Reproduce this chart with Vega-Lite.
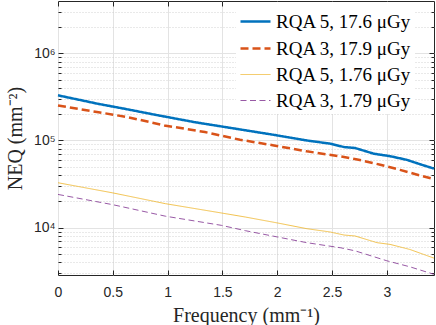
{
  "$schema": "https://vega.github.io/schema/vega-lite/v6.json",
  "width": 376,
  "height": 274,
  "autosize": "none",
  "padding": {"left": 58, "top": 1, "right": 2, "bottom": 50},
  "background": "white",
  "config": {
    "view": {"stroke": "#262626", "strokeWidth": 1},
    "axis": {
      "domain": false,
      "labelFont": "Liberation Sans",
      "labelFontSize": 14,
      "labelColor": "#262626",
      "tickColor": "#262626",
      "titleFont": "Liberation Serif",
      "titleFontSize": 20,
      "titleFontWeight": "normal",
      "titleColor": "#262626"
    }
  },
  "data": {
    "values": [
      {"series": "RQA 5, 17.6 μGy", "f": 0, "neq": 330000},
      {"series": "RQA 5, 17.6 μGy", "f": 0.37, "neq": 263000},
      {"series": "RQA 5, 17.6 μGy", "f": 0.61, "neq": 231000},
      {"series": "RQA 5, 17.6 μGy", "f": 0.89, "neq": 197000},
      {"series": "RQA 5, 17.6 μGy", "f": 1.25, "neq": 162000},
      {"series": "RQA 5, 17.6 μGy", "f": 1.66, "neq": 134000},
      {"series": "RQA 5, 17.6 μGy", "f": 1.97, "neq": 116000},
      {"series": "RQA 5, 17.6 μGy", "f": 2.27, "neq": 100000},
      {"series": "RQA 5, 17.6 μGy", "f": 2.48, "neq": 92000},
      {"series": "RQA 5, 17.6 μGy", "f": 2.61, "neq": 84000},
      {"series": "RQA 5, 17.6 μGy", "f": 2.71, "neq": 82000},
      {"series": "RQA 5, 17.6 μGy", "f": 2.88, "neq": 70500},
      {"series": "RQA 5, 17.6 μGy", "f": 3.03, "neq": 66000},
      {"series": "RQA 5, 17.6 μGy", "f": 3.18, "neq": 60000},
      {"series": "RQA 5, 17.6 μGy", "f": 3.31, "neq": 53000},
      {"series": "RQA 5, 17.6 μGy", "f": 3.43, "neq": 47500},
      {"series": "RQA 3, 17.9 μGy", "f": 0, "neq": 252000},
      {"series": "RQA 3, 17.9 μGy", "f": 0.37, "neq": 211000},
      {"series": "RQA 3, 17.9 μGy", "f": 0.64, "neq": 185000},
      {"series": "RQA 3, 17.9 μGy", "f": 0.97, "neq": 149000},
      {"series": "RQA 3, 17.9 μGy", "f": 1.34, "neq": 125000},
      {"series": "RQA 3, 17.9 μGy", "f": 1.66, "neq": 102000},
      {"series": "RQA 3, 17.9 μGy", "f": 1.97, "neq": 87700},
      {"series": "RQA 3, 17.9 μGy", "f": 2.27, "neq": 75000},
      {"series": "RQA 3, 17.9 μGy", "f": 2.58, "neq": 65500},
      {"series": "RQA 3, 17.9 μGy", "f": 2.73, "neq": 60600},
      {"series": "RQA 3, 17.9 μGy", "f": 2.94, "neq": 52600},
      {"series": "RQA 3, 17.9 μGy", "f": 3.12, "neq": 46000},
      {"series": "RQA 3, 17.9 μGy", "f": 3.27, "neq": 40700},
      {"series": "RQA 3, 17.9 μGy", "f": 3.43, "neq": 36000},
      {"series": "RQA 5, 1.76 μGy", "f": 0, "neq": 32700},
      {"series": "RQA 5, 1.76 μGy", "f": 0.5, "neq": 25000},
      {"series": "RQA 5, 1.76 μGy", "f": 0.98, "neq": 18800},
      {"series": "RQA 5, 1.76 μGy", "f": 1.49, "neq": 14700},
      {"series": "RQA 5, 1.76 μGy", "f": 1.71, "neq": 13200},
      {"series": "RQA 5, 1.76 μGy", "f": 2.0, "neq": 11300},
      {"series": "RQA 5, 1.76 μGy", "f": 2.27, "neq": 9700},
      {"series": "RQA 5, 1.76 μGy", "f": 2.48, "neq": 8900},
      {"series": "RQA 5, 1.76 μGy", "f": 2.61, "neq": 8200},
      {"series": "RQA 5, 1.76 μGy", "f": 2.71, "neq": 8000},
      {"series": "RQA 5, 1.76 μGy", "f": 2.91, "neq": 6700},
      {"series": "RQA 5, 1.76 μGy", "f": 3.03, "neq": 6400},
      {"series": "RQA 5, 1.76 μGy", "f": 3.21, "neq": 5600},
      {"series": "RQA 5, 1.76 μGy", "f": 3.43, "neq": 4450},
      {"series": "RQA 3, 1.79 μGy", "f": 0, "neq": 24000},
      {"series": "RQA 3, 1.79 μGy", "f": 0.5, "neq": 18300},
      {"series": "RQA 3, 1.79 μGy", "f": 0.98, "neq": 13500},
      {"series": "RQA 3, 1.79 μGy", "f": 1.49, "neq": 10600},
      {"series": "RQA 3, 1.79 μGy", "f": 1.71, "neq": 9200},
      {"series": "RQA 3, 1.79 μGy", "f": 2.0, "neq": 7800},
      {"series": "RQA 3, 1.79 μGy", "f": 2.27, "neq": 6700},
      {"series": "RQA 3, 1.79 μGy", "f": 2.58, "neq": 5850},
      {"series": "RQA 3, 1.79 μGy", "f": 2.71, "neq": 5400},
      {"series": "RQA 3, 1.79 μGy", "f": 3.0, "neq": 4150},
      {"series": "RQA 3, 1.79 μGy", "f": 3.21, "neq": 3540},
      {"series": "RQA 3, 1.79 μGy", "f": 3.43, "neq": 2900}
    ]
  },
  "layer": [
    {
      "mark": {"type": "line", "opacity": 0},
      "encoding": {
        "detail": {"field": "series"},
        "x": {"field": "f", "type": "quantitative", "scale": {"domain": [0, 3.43], "nice": false, "zero": false},
          "axis": {"orient": "bottom", "values": [0, 0.5, 1, 1.5, 2, 2.5, 3], "labels": false, "grid": false, "ticks": true, "tickSize": -5, "title": null}},
        "y": {"field": "neq", "type": "quantitative", "scale": {"type": "log", "domain": [2850, 4000000], "nice": false},
          "axis": {"orient": "left", "values": [3000, 4000, 5000, 6000, 7000, 8000, 9000, 20000, 30000, 40000, 50000, 60000, 70000, 80000, 90000, 200000, 300000, 400000, 500000, 600000, 700000, 800000, 900000, 2000000, 3000000],
            "labels": false, "grid": true, "gridDash": [1, 2], "gridColor": "#c8c8c8", "gridWidth": 0.8, "ticks": true, "tickSize": -3, "title": null}}
      }
    },
    {
      "mark": {"type": "line", "opacity": 0},
      "encoding": {
        "detail": {"field": "series"},
        "x": {"field": "f", "type": "quantitative", "scale": {"domain": [0, 3.43], "nice": false, "zero": false},
          "axis": {"orient": "top", "values": [0, 0.5, 1, 1.5, 2, 2.5, 3], "labels": false, "grid": false, "ticks": true, "tickSize": -5, "title": null}},
        "y": {"field": "neq", "type": "quantitative", "scale": {"type": "log", "domain": [2850, 4000000], "nice": false},
          "axis": {"orient": "right", "values": [3000, 4000, 5000, 6000, 7000, 8000, 9000, 20000, 30000, 40000, 50000, 60000, 70000, 80000, 90000, 200000, 300000, 400000, 500000, 600000, 700000, 800000, 900000, 2000000, 3000000],
            "labels": false, "grid": false, "ticks": true, "tickSize": -3, "title": null}}
      }
    },
    {
      "mark": {"type": "line", "opacity": 0},
      "encoding": {
        "detail": {"field": "series"},
        "x": {"field": "f", "type": "quantitative", "scale": {"domain": [0, 3.43], "nice": false, "zero": false}, "axis": null},
        "y": {"field": "neq", "type": "quantitative", "scale": {"type": "log", "domain": [2850, 4000000], "nice": false},
          "axis": {"orient": "right", "values": [10000, 100000, 1000000], "labels": false, "grid": false, "ticks": true, "tickSize": -5, "title": null}}
      }
    },
    {
      "mark": {"type": "line"},
      "encoding": {
        "x": {"field": "f", "type": "quantitative", "scale": {"domain": [0, 3.43], "nice": false, "zero": false},
          "axis": {"orient": "bottom", "values": [0, 0.5, 1, 1.5, 2, 2.5, 3], "format": "~g", "grid": true, "gridColor": "#e3e3e3", "ticks": false, "labelPadding": 10, "labelFlush": false, "title": "Frequency (mm⁻¹)", "titlePadding": 6}},
        "y": {"field": "neq", "type": "quantitative", "scale": {"type": "log", "domain": [2850, 4000000], "nice": false},
          "axis": {"orient": "left", "values": [10000, 100000, 1000000], "grid": true, "gridColor": "#e3e3e3", "ticks": true, "tickSize": -5, "labelPadding": 8,
            "labelExpr": "datum.value == 10000 ? '10⁴' : datum.value == 100000 ? '10⁵' : '10⁶'", "title": "NEQ (mm⁻²)", "titlePadding": 8}},
        "color": {"field": "series", "type": "ordinal", "sort": null,
          "scale": {"domain": ["RQA 5, 17.6 μGy", "RQA 3, 17.9 μGy", "RQA 5, 1.76 μGy", "RQA 3, 1.79 μGy"], "range": ["#0072BD", "#D95319", "#EDB120", "#7E2F8E"]},
          "legend": {"orient": "none", "legendX": 178, "legendY": 1, "title": null, "symbolType": "stroke", "symbolSize": 900, "labelFont": "Liberation Serif", "labelFontSize": 19, "labelColor": "black", "fillColor": "white", "padding": 3, "rowPadding": -5.5, "labelOffset": 4}},
        "strokeDash": {"field": "series", "type": "ordinal", "sort": null,
          "scale": {"domain": ["RQA 5, 17.6 μGy", "RQA 3, 17.9 μGy", "RQA 5, 1.76 μGy", "RQA 3, 1.79 μGy"], "range": [[1, 0], [8, 4], [1, 0], [6, 3.5]]}},
        "strokeWidth": {"field": "series", "type": "ordinal", "sort": null,
          "scale": {"type": "ordinal", "domain": ["RQA 5, 17.6 μGy", "RQA 3, 17.9 μGy", "RQA 5, 1.76 μGy", "RQA 3, 1.79 μGy"], "range": [2.5, 2.5, 0.8, 0.8]}}
      }
    }
  ],
  "resolve": {"axis": {"x": "independent", "y": "independent"}}
}
